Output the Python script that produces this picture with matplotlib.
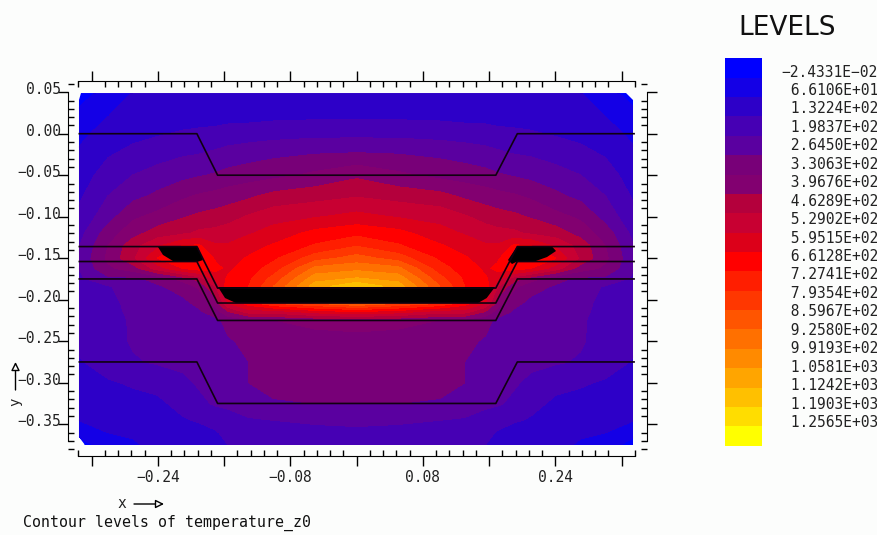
import numpy as np
import matplotlib
matplotlib.use('Agg')
import matplotlib.pyplot as plt
from matplotlib.patches import Polygon
from matplotlib.ticker import FixedLocator
from matplotlib.transforms import ScaledTranslation

level_labels = ['\u22122.4331E\u221202', ' 6.6106E+01', ' 1.3224E+02', ' 1.9837E+02', ' 2.6450E+02',
                ' 3.3063E+02', ' 3.9676E+02', ' 4.6289E+02', ' 5.2902E+02', ' 5.9515E+02',
                ' 6.6128E+02', ' 7.2741E+02', ' 7.9354E+02', ' 8.5967E+02', ' 9.2580E+02',
                ' 9.9193E+02', ' 1.0581E+03', ' 1.1242E+03', ' 1.1903E+03', ' 1.2565E+03']
level_colors = ['#0000ff', '#1400e6', '#2d00c8', '#4600b4', '#5a00a0', '#780078', '#820070',
                '#b4003c', '#c80032', '#dc0019', '#ff0000', '#ff1e00', '#ff3700', '#ff5500',
                '#ff7000', '#ff8a00', '#ffa500', '#ffc000', '#ffdd00', '#ffff00']

# field, right half (the plot is mirror symmetric about x=0)
# values are in legend band units: 3.5 = halfway through the band of label 3
grid_x = [0, 0.05, 0.10, 0.13, 0.155, 0.17, 0.19, 0.21, 0.24, 0.27, 0.30, 0.336]
grid_y = [0.05, 0.02, 0, -0.025, -0.05, -0.075, -0.10, -0.12, -0.135, -0.15, -0.162, -0.174,
          -0.184, -0.204, -0.214, -0.224, -0.25, -0.275, -0.30, -0.325, -0.345, -0.36, -0.375]
bands = [
    [2.0, 2.0, 2.0, 2.0, 2.0, 2.0, 2.0, 2.0, 2.0, 2.0, 1.5, 0.3],
    [2.85, 2.85, 2.8, 2.7, 2.7, 2.6, 2.6, 2.6, 2.5, 2.3, 2.0, 1.4],
    [3.7, 3.7, 3.6, 3.5, 3.4, 3.3, 3.2, 3.1, 2.9, 2.7, 2.3, 1.8],
    [5.1, 5.0, 4.8, 4.6, 4.4, 4.2, 4.0, 3.9, 3.6, 3.3, 2.9, 2.1],
    [6.8, 6.2, 5.7, 5.5, 5.3, 5.1, 4.9, 4.7, 4.4, 4.0, 3.5, 2.4],
    [7.9, 7.6, 7.3, 6.8, 6.5, 6.3, 6.1, 5.8, 5.2, 4.7, 4.0, 2.8],
    [9.3, 8.9, 8.6, 8.1, 7.6, 7.4, 7.2, 6.9, 6.3, 5.8, 4.6, 3.2],
    [10.7, 10.3, 9.4, 8.9, 8.5, 8.3, 8.2, 7.8, 7.5, 6.6, 5.5, 3.6],
    [11.9, 11.1, 10.1, 9.6, 9.1, 9.1, 10.1, 10.0, 8.8, 7.6, 6.0, 3.9],
    [13.4, 12.5, 10.8, 10.1, 9.6, 9.8, 11.0, 11.0, 10.0, 7.8, 6.2, 4.1],
    [14.6, 14.2, 11.4, 10.5, 9.8, 10.2, 10.5, 10.0, 8.5, 6.5, 5.8, 4.0],
    [16.0, 15.5, 12.3, 10.8, 10.1, 9.5, 7.5, 6.5, 5.3, 4.8, 4.8, 3.8],
    [17.8, 16.5, 13.0, 11.0, 10.8, 8.0, 6.2, 5.3, 4.9, 4.5, 3.9, 3.7],
    [14.0, 13.0, 12.0, 10.5, 9.0, 6.5, 5.2, 4.8, 4.6, 4.3, 3.7, 3.5],
    [10.0, 9.5, 8.5, 8.5, 7.0, 5.5, 4.9, 4.6, 4.5, 4.2, 3.7, 3.4],
    [6.5, 6.3, 6.0, 5.8, 5.3, 4.8, 4.6, 4.5, 4.4, 4.1, 3.7, 3.3],
    [5.6, 5.6, 5.5, 5.2, 4.9, 4.6, 4.4, 4.4, 4.3, 4.1, 3.6, 3.2],
    [5.5, 5.5, 5.4, 5.0, 4.6, 4.4, 4.3, 4.2, 4.1, 3.9, 3.4, 2.9],
    [5.4, 5.4, 5.3, 5.0, 4.5, 4.3, 4.1, 3.8, 3.3, 3.1, 2.9, 2.8],
    [5.0, 5.0, 4.9, 4.5, 4.2, 4.1, 3.8, 3.3, 2.8, 2.7, 2.6, 2.3],
    [4.3, 4.2, 4.0, 3.9, 3.6, 3.4, 3.1, 2.9, 2.4, 2.3, 2.2, 2.0],
    [3.7, 3.6, 3.4, 3.4, 3.3, 2.9, 2.6, 2.4, 2.2, 2.1, 2.0, 1.2],
    [3.3, 3.2, 3.0, 3.1, 3.0, 2.8, 2.6, 2.4, 2.2, 1.9, 1.4, 0.6],
]

# material layer outlines
layer_x = [-0.335, -0.193, -0.168, 0.168, 0.194, 0.335]
layer_ys = [
    [0, 0, -0.05, -0.05, 0, 0],
    [-0.136, -0.136, -0.186, -0.186, -0.136, -0.136],
    [-0.154, -0.154, -0.204, -0.204, -0.154, -0.154],
    [-0.175, -0.175, -0.225, -0.225, -0.175, -0.175],
    [-0.275, -0.275, -0.325, -0.325, -0.275, -0.275],
]

# black regions
black_shapes = [
    ([-0.1675, 0.167, 0.157, 0.1465, -0.1458, -0.159],
     [-0.1847, -0.1847, -0.198, -0.204, -0.204, -0.198]),
    ([0.1936, 0.2359, 0.2407, 0.2298, 0.2129, 0.1924, 0.1876, 0.1827],
     [-0.136, -0.136, -0.1413, -0.1486, -0.1546, -0.1546, -0.157, -0.1522]),
    ([-0.24, -0.1918, -0.1857, -0.1929, -0.2219, -0.2339],
     [-0.1365, -0.1365, -0.1522, -0.1546, -0.1534, -0.1461]),
]
outline_x = [-0.3354, -0.333, 0.3253, 0.3337, 0.3337, -0.3282, -0.3354]
outline_y = [0.0406, 0.049, 0.049, 0.0406, -0.375, -0.375, -0.3654]

W, H = 877, 535
BG = '#fcfdfc'
MONO = 'DejaVu Sans Mono'

fig = plt.figure(figsize=(W / 100, H / 100), dpi=100, facecolor=BG)


def px_rect(left, top, right, bottom):
    return [left / W, 1 - bottom / H, (right - left) / W, (bottom - top) / H]


def fx(p):
    return p / W


def fy(p):
    return 1 - p / H


ax = fig.add_axes(px_rect(68, 80.7, 647, 455.7), facecolor='none')
ax.set_xlim((68 - 356.7) / 828, (647 - 356.7) / 828)
ax.set_ylim((133.7 - 455.7) / 830, (133.7 - 80.7) / 830)

half_x = np.array(grid_x)
half_z = np.array(bands)
X = np.concatenate([-half_x[:0:-1], half_x])
Z = np.hstack([half_z[:, :0:-1], half_z])
cs = ax.contourf(X, grid_y, Z, levels=np.arange(21), colors=level_colors)
cs.set_edgecolor('face')
cs.set_linewidth(0.4)
outline = Polygon(np.column_stack([outline_x, outline_y]), transform=ax.transData)
cs.set_clip_path(outline)

for sx, sy in black_shapes:
    ax.fill(sx, sy, color='black', lw=0, zorder=3)
for ly in layer_ys:
    ax.plot(layer_x, ly, color='#100010', lw=1.2, zorder=4)

for side in ['left', 'right']:
    ax.spines[side].set_bounds(-0.37, 0.05)
for side in ['top', 'bottom']:
    ax.spines[side].set_bounds(-0.336, 0.336)

x_major = [-0.32, -0.24, -0.16, -0.08, 0, 0.08, 0.16, 0.24, 0.32]
x_labels = ['', '\u22120.24', '', '\u22120.08', '', '0.08', '', '0.24', '']
y_major = [0.05, 0, -0.05, -0.10, -0.15, -0.20, -0.25, -0.30, -0.35]
y_labels = ['0.05', '0.00', '\u22120.05', '\u22120.10', '\u22120.15', '\u22120.20', '\u22120.25',
            '\u22120.30', '\u22120.35']
ax.xaxis.set_major_locator(FixedLocator(x_major))
ax.yaxis.set_major_locator(FixedLocator(y_major))
ax.xaxis.set_minor_locator(FixedLocator(np.arange(-21, 22) * 0.016))
ax.yaxis.set_minor_locator(FixedLocator(np.arange(-38, 7) * 0.01))
ax.set_xticklabels(x_labels)
ax.set_yticklabels(y_labels)
ax.tick_params(which='major', direction='out', length=7, width=1, top=True, right=True,
               labelsize=10.5, labelcolor='#222222')
ax.tick_params(which='minor', direction='in', length=4, width=1, top=True, right=True)
ax.tick_params(axis='x', which='major', pad=3)
ax.tick_params(axis='y', which='major', pad=-2)
up = ScaledTranslation(0, 3 / 72, fig.dpi_scale_trans)
for lab in ax.get_yticklabels():
    lab.set_family(MONO)
    lab.set_transform(lab.get_transform() + up)
for lab in ax.get_xticklabels():
    lab.set_family(MONO)

fig.text(fx(23), fy(522.7), 'Contour levels of temperature_z0', family=MONO, fontsize=10.7,
         va='center', ha='left', color='#111111')
fig.text(fx(122), fy(504), 'x', family=MONO, fontsize=10.5, va='center', ha='center', color='#222222')
fig.text(fx(15.5), fy(402), 'y', family=MONO, fontsize=10, va='center', ha='center', rotation=90,
         color='#222222')
arrow = dict(arrowstyle='-|>,head_width=0.25,head_length=0.5', edgecolor='black', facecolor=BG, lw=1,
             shrinkA=0, shrinkB=0)
fig.add_artist(plt.Annotation('', xy=(fx(164), fy(504)), xytext=(fx(134), fy(504)),
                              xycoords='figure fraction', textcoords='figure fraction', arrowprops=arrow))
fig.add_artist(plt.Annotation('', xy=(fx(15.5), fy(362)), xytext=(fx(15.5), fy(390)),
                              xycoords='figure fraction', textcoords='figure fraction', arrowprops=arrow))

# legend
lax = fig.add_axes(px_rect(725, 58.3, 762, 445.7))
lax.barh(np.arange(20), np.ones(20), height=1, color=level_colors, lw=0)
lax.set_xlim(0, 1)
lax.set_ylim(19.5, -0.5)
lax.axis('off')
for i, lab in enumerate(level_labels):
    fig.text(fx(781.5), fy(72 + 18.45 * i), lab, family=MONO, fontsize=10.5, va='center', ha='left',
             color='#222222')
fig.text(fx(787), fy(28), 'LEVELS', fontsize=19, ha='center', va='center', color='#111111')

fig.savefig('out.png', dpi=100, facecolor=BG)
